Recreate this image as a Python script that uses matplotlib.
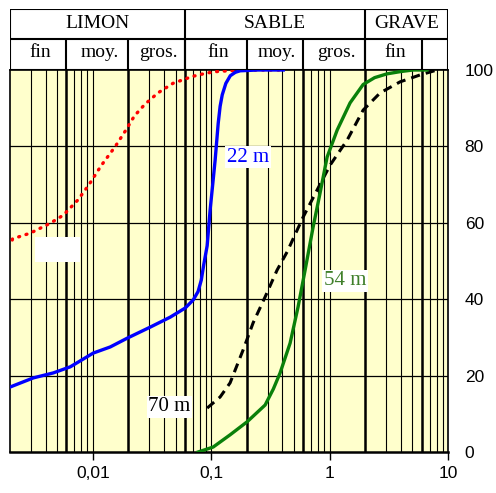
import matplotlib.pyplot as plt
import matplotlib.patches as mpatches
import numpy as np

# grain size (mm) vs cumulative percent passing
d_red = [0.00209, 0.0021, 0.00297, 0.00438, 0.00564, 0.0075, 0.0093, 0.0118, 0.0155, 0.0188,
         0.0225, 0.0275, 0.0355, 0.0475, 0.0691, 0.0915, 0.1125, 0.18, 0.38]
p_red = [55.5, 55.8, 57.3, 59.9, 62.0, 66.0, 70.0, 75.0, 80.0, 84.0,
         88.0, 91.0, 94.0, 96.5, 98.3, 99.2, 99.6, 100, 100]

d_blue = [0.002, 0.00315, 0.00464, 0.00646, 0.0101, 0.01405, 0.01955, 0.0306, 0.0451, 0.0604,
          0.0705, 0.0775, 0.0825, 0.0865, 0.0925, 0.098, 0.103, 0.108, 0.1146, 0.119, 0.124,
          0.133, 0.145, 0.16, 0.176, 0.25, 0.406]
p_blue = [17.0, 19.4, 20.7, 22.3, 25.9, 27.5, 29.8, 32.7, 35.3, 37.7,
          39.8, 42.0, 45.0, 49.0, 54.0, 63.4, 70.0, 76.4, 86.0, 90.5, 93.5,
          96.5, 98.5, 99.4, 99.8, 100, 100]

d_black = [0.0925, 0.119, 0.1445, 0.186, 0.226, 0.2855, 0.36, 0.438, 0.598, 0.785,
           1.01, 1.41, 1.92, 2.67, 3.94, 5.8, 8.08]
p_black = [11.5, 14.4, 18.1, 26.7, 33.8, 40.6, 47.6, 52.4, 61.5, 68.6,
           75.1, 81.7, 89.5, 94.0, 96.9, 98.7, 100]

d_green = [0.0776, 0.104, 0.1445, 0.201, 0.2855, 0.335, 0.382, 0.464, 0.542, 0.621, 0.726,
           0.831, 0.953, 1.16, 1.49, 1.92, 2.4, 3.06, 4.0, 5.07, 6.66]
p_green = [0, 1.3, 4.5, 7.9, 12.3, 16.5, 20.7, 28.5, 38.0, 47.6, 58.9,
           67.8, 77.2, 84.3, 91.4, 96.2, 98.0, 99.0, 99.6, 100, 100]

# class boundaries and headers
bounds = [0.002, 0.006, 0.02, 0.06, 0.2, 0.6, 2, 6, 10]
main_names = ["LIMON", "SABLE", "GRAVE"]
main_bounds = [0.002, 0.06, 2, 10]
sub_names = ["fin", "moy.", "gros.", "fin", "moy.", "gros.", "fin", ""]

x_ticks = [0.01, 0.1, 1, 10]
x_labels = ["0,01", "0,1", "1", "10"]
y_ticks = [0, 20, 40, 60, 80, 100]

fig = plt.figure(figsize=(4.96, 4.93), dpi=100)
L, R = 10 / 496, 448 / 496
B, T = (493 - 452) / 493, (493 - 70) / 493
ax = fig.add_axes([L, B, R - L, T - B])
ax.set_xscale('log')
ax.set_xlim(0.002, 10)
ax.set_ylim(0, 100)
ax.set_facecolor('#FFFFCC')

# grid
for e in range(-3, 1):
    for k in range(2, 10):
        v = k * 10.0 ** e
        if 0.002 < v < 10:
            ax.axvline(v, color='k', lw=0.8, zorder=1)
for v in [0.01, 0.1, 1]:
    ax.axvline(v, color='k', lw=0.8, zorder=1)
for v in bounds[1:-1]:
    ax.axvline(v, color='k', lw=1.8, zorder=1)
for v in [20, 40, 60, 80]:
    ax.axhline(v, color='k', lw=0.9, zorder=1)

ax.plot(d_red, p_red, color='red', lw=2.4, linestyle=(0, (0.3, 2.0)),
        dash_capstyle='round', zorder=3)
ax.plot(d_blue, p_blue, color='#0000FF', lw=2.4, zorder=3)
ax.plot(d_black, p_black, color='black', lw=2.2, linestyle=(0, (3.0, 2.0)), zorder=3)
ax.plot(d_green, p_green, color='#0a800a', lw=2.4, zorder=3)

tfont = dict(family=['Liberation Serif', 'DejaVu Serif'], fontsize=15)
ax.text(0.205, 77.2, "22 m", color='#0000FF', ha='center', va='center', zorder=4,
        bbox=dict(facecolor='white', edgecolor='none', pad=1.2), **tfont)
ax.text(1.35, 44.8, "54 m", color='#3f7f2a', ha='center', va='center', zorder=4,
        bbox=dict(facecolor='white', edgecolor='none', pad=1.2), **tfont)
ax.text(0.0443, 11.8, "70 m", color='black', ha='center', va='center', zorder=4,
        bbox=dict(facecolor='white', edgecolor='none', pad=1.2), **tfont)
ax.add_patch(mpatches.Rectangle((0.057, 0.497), 0.103, 0.066, transform=ax.transAxes,
                                facecolor='white', edgecolor='none', zorder=4))

ax.set_xticks(x_ticks)
ax.set_xticklabels(x_labels)
ax.xaxis.set_minor_locator(plt.NullLocator())
ax.tick_params(axis='x', direction='out', length=6, width=1, labelsize=12.5, pad=4,
               labelfontfamily='Liberation Sans')
ax.yaxis.tick_right()
ax.set_yticks(y_ticks)
ax.tick_params(axis='y', length=0, pad=12, labelsize=12.5, labelfontfamily='Liberation Sans')
for s in ax.spines.values():
    s.set_color('k')
    s.set_linewidth(1.2)
ax.spines['bottom'].set_linewidth(1.8)

# header table
H0 = (493 - 70) / 493
H1 = (493 - 9) / 493
axh = fig.add_axes([L, H0, R - L, H1 - H0])
axh.set_xscale('log')
axh.set_xlim(0.002, 10)
axh.set_ylim(0, 1)
axh.axis('off')
mid = 31 / 61
hk = dict(color='k', lw=1.5, solid_capstyle='butt')
axh.plot([0.002, 10], [mid, mid], **hk)
axh.plot([0.002, 10], [1, 1], **hk)
axh.plot([0.002, 10], [0, 0], **hk)
for v in main_bounds:
    axh.plot([v, v], [0, 1], **hk)
for v in bounds[1:-1]:
    axh.plot([v, v], [0, mid], **hk)
hfont = dict(family=['Liberation Serif', 'DejaVu Serif'], fontsize=14)
for i, name in enumerate(main_names):
    xc = np.sqrt(main_bounds[i] * main_bounds[i + 1])
    axh.text(xc, (1 + mid) / 2, name, ha='center', va='center', **hfont)
for i, name in enumerate(sub_names):
    xc = np.sqrt(bounds[i] * bounds[i + 1])
    axh.text(xc * 1.04, mid / 2 + 0.03, name, ha='center', va='center', **hfont)

plt.savefig('out.png', dpi=100)
